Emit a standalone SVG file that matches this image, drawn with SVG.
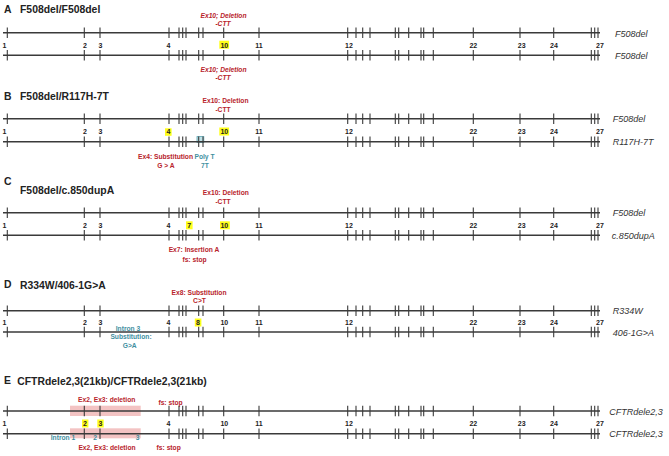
<svg xmlns="http://www.w3.org/2000/svg" width="669" height="456" viewBox="0 0 669 456">
<style>
.bg{fill:#fff}
.ln{stroke:#3a3a3a;stroke-width:1.5;fill:none}
.tk{stroke:#3a3a3a;stroke-width:1.1;fill:none}
.num{font-family:"Liberation Sans",Arial,sans-serif;font-size:7px;font-weight:bold;fill:#222;text-anchor:middle}
.ttl{font-family:"Liberation Sans",Arial,sans-serif;font-size:10.4px;font-weight:bold;fill:#222}
.lab{font-family:"Liberation Sans",Arial,sans-serif;font-size:9px;font-style:italic;fill:#333}
.red{font-family:"Liberation Sans",Arial,sans-serif;font-size:6.7px;font-weight:bold;fill:#b8232b;text-anchor:middle}
.redi{font-style:italic}
.teal{font-family:"Liberation Sans",Arial,sans-serif;font-size:6.7px;font-weight:bold;fill:#3f8f9f;text-anchor:middle}
.hl{fill:#ffff1a}
.pink{fill:#f0b4b4;opacity:0.8}
</style>
<defs>
<g id="track">
<line class="ln" x1="3" y1="0" x2="600" y2="0"/>
<path class="tk" d="M7.3,-5.3v10.6M84.3,-5.3v10.6M100,-5.3v10.6M169,-5.3v10.6M179,-5.3v10.6M182.7,-5.3v10.6M186,-5.3v10.6M198.7,-5.3v10.6M203,-5.3v10.6M223.7,-5.3v10.6M259,-5.3v10.6M347.7,-5.3v10.6M356,-5.3v10.6M362.7,-5.3v10.6M370,-5.3v10.6M395.3,-5.3v10.6M398.7,-5.3v10.6M408.7,-5.3v10.6M421,-5.3v10.6M423.7,-5.3v10.6M433.3,-5.3v10.6M473.3,-5.3v10.6M520,-5.3v10.6M553.7,-5.3v10.6M591.3,-5.3v10.6M594.7,-5.3v10.6M598,-5.3v10.6"/>
</g>
<g id="nums">
<text class="num" x="4.5" y="0">1</text>
<text class="num" x="85" y="0">2</text>
<text class="num" x="100.5" y="0">3</text>
<text class="num" x="168.5" y="0">4</text>
<text class="num" x="224.3" y="0">10</text>
<text class="num" x="259" y="0">11</text>
<text class="num" x="349" y="0">12</text>
<text class="num" x="473.3" y="0">22</text>
<text class="num" x="521.7" y="0">23</text>
<text class="num" x="554" y="0">24</text>
<text class="num" x="600" y="0">27</text>
</g>
</defs>
<rect class="bg" x="0" y="0" width="669" height="456"/>

<g id="panelA">
<text class="ttl" x="4" y="12.7">A</text>
<text class="ttl" x="20" y="13.3">F508del/F508del</text>
<text class="red redi" x="223.5" y="18">Ex10; Deletion</text>
<text class="red redi" x="223" y="26.3">-CTT</text>
<use href="#track" y="32.7"/>
<rect class="hl" x="219.3" y="40.7" width="9.8" height="8"/>
<use href="#nums" y="47.7"/>
<use href="#track" y="55.3"/>
<text class="red redi" x="223.5" y="72">Ex10; Deletion</text>
<text class="red redi" x="223" y="80">-CTT</text>
<text class="lab" x="615" y="36.5">F508del</text>
<text class="lab" x="615" y="59">F508del</text>
</g>

<g id="panelB">
<text class="ttl" x="4" y="100">B</text>
<text class="ttl" x="20" y="100">F508del/R117H-7T</text>
<text class="red" x="225.5" y="103">Ex10: Deletion</text>
<text class="red" x="223" y="112">-CTT</text>
<use href="#track" y="118.7"/>
<rect class="hl" x="165" y="128.3" width="6.6" height="7.5"/>
<rect class="hl" x="219.3" y="127.5" width="9.8" height="8"/>
<use href="#nums" y="134"/>
<rect x="197" y="136.6" width="6.8" height="5.8" fill="#bfe3e8" stroke="#5aa3b0" stroke-width="0.8"/>
<use href="#track" y="141.7"/>
<text class="red" x="165.5" y="158.5">Ex4: Substitution</text>
<text class="red" x="166" y="168">G &gt; A</text>
<text class="teal" x="204.5" y="158.5">Poly T</text>
<text class="teal" x="205" y="168">7T</text>
<text class="lab" x="612.7" y="122.3">F508del</text>
<text class="lab" x="612.7" y="145.3">R117H-7T</text>
</g>

<g id="panelC">
<text class="ttl" x="4" y="185">C</text>
<text class="ttl" x="20" y="193.5">F508del/c.850dupA</text>
<text class="red" x="225.8" y="195">Ex10: Deletion</text>
<text class="red" x="223" y="204">-CTT</text>
<use href="#track" y="212.7"/>
<rect class="hl" x="186" y="221.3" width="6.6" height="8"/>
<rect class="hl" x="220" y="221.3" width="9.8" height="8"/>
<use href="#nums" y="228"/>
<text class="num" x="189.2" y="228">7</text>
<use href="#track" y="235.3"/>
<text class="red" x="194" y="252">Ex7: Insertion A</text>
<text class="red" x="194.5" y="262">fs: stop</text>
<text class="lab" x="612.7" y="216.3">F508del</text>
<text class="lab" x="611.7" y="239">c.850dupA</text>
</g>

<g id="panelD">
<text class="ttl" x="4" y="288.3">D</text>
<text class="ttl" x="20" y="289">R334W/406-1G&gt;A</text>
<text class="red" x="199" y="295">Ex8: Substitution</text>
<text class="red" x="199.5" y="303">C&gt;T</text>
<use href="#track" y="310.7"/>
<rect class="hl" x="194.8" y="318.5" width="6.6" height="8"/>
<use href="#nums" y="325"/>
<text class="num" x="198" y="325">8</text>
<use href="#track" y="332"/>
<text class="teal" x="128" y="330.7">Intron 3</text>
<text class="teal" x="131" y="339">Substitution:</text>
<text class="teal" x="129.7" y="348">G&gt;A</text>
<text class="lab" x="612.7" y="314.3">R334W</text>
<text class="lab" x="612.7" y="335.6">406-1G&gt;A</text>
</g>

<g id="panelE">
<text class="ttl" x="4" y="384">E</text>
<text class="ttl" x="17.3" y="385" textLength="189.4" lengthAdjust="spacingAndGlyphs">CFTRdele2,3(21kb)/CFTRdele2,3(21kb)</text>
<rect class="pink" x="70" y="405.7" width="70.7" height="10.3"/>
<rect class="pink" x="70" y="428.3" width="70.7" height="10"/>
<text class="red" x="106.7" y="402">Ex2, Ex3: deletion</text>
<text class="red" x="170.5" y="404.5">fs: stop</text>
<use href="#track" y="411"/>
<rect class="hl" x="82" y="419.5" width="6.4" height="8"/>
<rect class="hl" x="97.3" y="419.5" width="6.4" height="8"/>
<use href="#nums" y="426"/>
<use href="#track" y="433.7"/>
<text class="teal" x="63" y="440">Intron 1</text>
<text class="teal" x="95" y="440">2</text>
<text class="teal" x="137.7" y="440">3</text>
<text class="red" x="107" y="449.5">Ex2, Ex3: deletion</text>
<text class="red" x="168.7" y="449.5">fs: stop</text>
<text class="lab" x="609.3" y="414.5">CFTRdele2,3</text>
<text class="lab" x="609.3" y="437.2">CFTRdele2,3</text>
</g>
</svg>
